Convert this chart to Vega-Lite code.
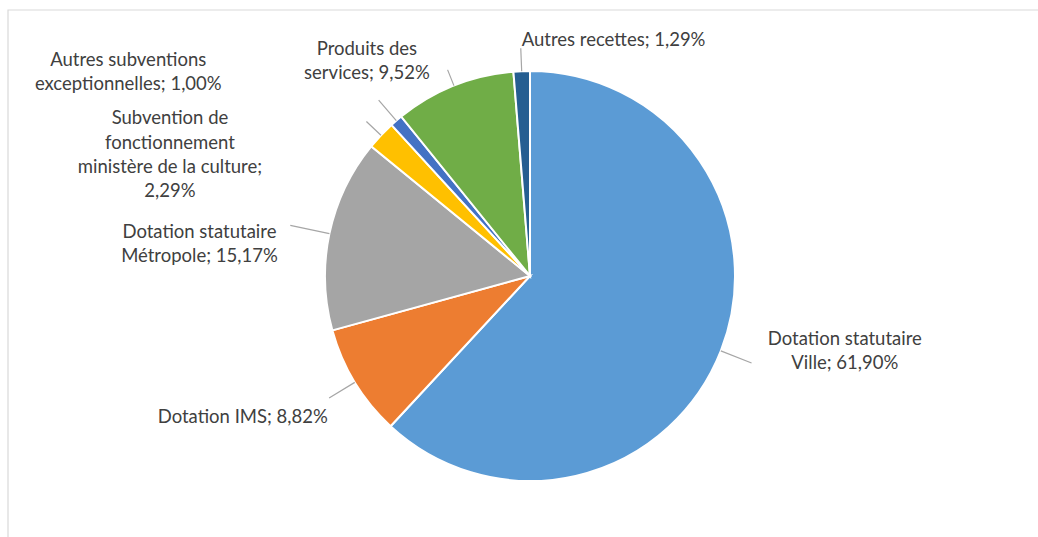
{
  "$schema": "https://vega.github.io/schema/vega-lite/v6.json",
  "width": 1038,
  "height": 537,
  "autosize": {"type": "fit", "contains": "padding"},
  "padding": {"left": 7, "top": 9, "right": -15, "bottom": -6},
  "background": "#ffffff",
  "config": {"view": {"stroke": null}},
  "data": {
    "values": [
      {"id": "ville", "order": 1, "value": 61.90, "label": "Dotation statutaire\nVille; 61,90%"},
      {"id": "ims", "order": 2, "value": 8.82, "label": "Dotation IMS; 8,82%"},
      {"id": "metro", "order": 3, "value": 15.17, "label": "Dotation statutaire\nMétropole; 15,17%"},
      {"id": "subv", "order": 4, "value": 2.29, "label": "Subvention de\nfonctionnement\nministère de la culture;\n2,29%"},
      {"id": "exc", "order": 5, "value": 1.00, "label": "Autres subventions\nexceptionnelles; 1,00%"},
      {"id": "prod", "order": 6, "value": 9.52, "label": "Produits des\nservices; 9,52%"},
      {"id": "autres", "order": 7, "value": 1.29, "label": "Autres recettes; 1,29%"}
    ]
  },
  "layer": [
    {
      "data": {"values": [{"frame": "border"}]},
      "mark": {"type": "rect", "fill": null, "filled": false, "stroke": "#d9d9d9", "strokeWidth": 1.2},
      "encoding": {}
    },
    {
      "mark": {"type": "arc", "outerRadius": 205, "stroke": "#ffffff", "strokeWidth": 2},
      "encoding": {
        "theta": {"field": "value", "type": "quantitative", "stack": true},
        "order": {"field": "order", "type": "quantitative"},
        "color": {
          "field": "id",
          "type": "nominal",
          "scale": {
            "domain": ["ville", "ims", "metro", "subv", "exc", "prod", "autres"],
            "range": ["#5B9BD5", "#ED7D31", "#A5A5A5", "#FFC000", "#4472C4", "#70AD47", "#255E91"]
          },
          "legend": null
        }
      }
    },
    {
      "transform": [
        {"stack": "value", "groupby": [], "sort": [{"field": "order", "order": "ascending"}], "as": ["t0", "t1"]},
        {"fold": ["t0", "t1"], "as": ["edge", "t"]},
        {"aggregate": [{"op": "mean", "field": "t", "as": "tm"}], "groupby": ["id", "label"]}
      ],
      "encoding": {"theta": {"field": "tm", "type": "quantitative", "stack": null}},
      "layer": [
        {
          "transform": [{"filter": {"field": "id", "equal": "ville"}}],
          "layer": [
            {"mark": {"type": "arc", "radius2": 205, "radius": 238, "filled": false, "stroke": "#a6a6a6", "strokeWidth": 1.2}, "encoding": {"theta2": {"field": "tm"}}},
            {"mark": {"type": "text", "radius": 205, "dx": 124, "dy": -21, "align": "center", "baseline": "top", "font": "Lato", "fontSize": 18.5, "lineHeight": 24.4, "lineBreak": "\n", "color": "#404040"}, "encoding": {"text": {"field": "label"}}}
          ]
        },
        {
          "transform": [{"filter": {"field": "id", "equal": "ims"}}],
          "layer": [
            {"mark": {"type": "arc", "radius2": 205, "radius": 235, "filled": false, "stroke": "#a6a6a6", "strokeWidth": 1.2}, "encoding": {"theta2": {"field": "tm"}}},
            {"mark": {"type": "text", "radius": 205, "dx": -112, "dy": 26, "align": "center", "baseline": "top", "font": "Lato", "fontSize": 18.5, "lineHeight": 24.4, "lineBreak": "\n", "color": "#404040"}, "encoding": {"text": {"field": "label"}}}
          ]
        },
        {
          "transform": [{"filter": {"field": "id", "equal": "metro"}}],
          "layer": [
            {"mark": {"type": "arc", "radius2": 205, "radius": 245, "filled": false, "stroke": "#a6a6a6", "strokeWidth": 1.2}, "encoding": {"theta2": {"field": "tm"}}},
            {"mark": {"type": "text", "radius": 205, "dx": -130, "dy": -11, "align": "center", "baseline": "top", "font": "Lato", "fontSize": 18.5, "lineHeight": 24.4, "lineBreak": "\n", "color": "#404040"}, "encoding": {"text": {"field": "label"}}}
          ]
        },
        {
          "transform": [{"filter": {"field": "id", "equal": "subv"}}],
          "layer": [
            {"mark": {"type": "arc", "radius2": 205, "radius": 225, "filled": false, "stroke": "#a6a6a6", "strokeWidth": 1.2}, "encoding": {"theta2": {"field": "tm"}}},
            {"mark": {"type": "text", "radius": 205, "dx": -211, "dy": -26, "align": "center", "baseline": "top", "font": "Lato", "fontSize": 18.5, "lineHeight": 24.4, "lineBreak": "\n", "color": "#404040"}, "encoding": {"text": {"field": "label"}}}
          ]
        },
        {
          "transform": [{"filter": {"field": "id", "equal": "exc"}}],
          "layer": [
            {"mark": {"type": "arc", "radius2": 205, "radius": 232, "filled": false, "stroke": "#a6a6a6", "strokeWidth": 1.2}, "encoding": {"theta2": {"field": "tm"}}},
            {"mark": {"type": "text", "radius": 205, "dx": -268, "dy": -70, "align": "center", "baseline": "top", "font": "Lato", "fontSize": 18.5, "lineHeight": 24.4, "lineBreak": "\n", "color": "#404040"}, "encoding": {"text": {"field": "label"}}}
          ]
        },
        {
          "transform": [{"filter": {"field": "id", "equal": "prod"}}],
          "layer": [
            {"mark": {"type": "arc", "radius2": 205, "radius": 222, "filled": false, "stroke": "#a6a6a6", "strokeWidth": 1.2}, "encoding": {"theta2": {"field": "tm"}}},
            {"mark": {"type": "text", "radius": 205, "dx": -87, "dy": -46, "align": "center", "baseline": "top", "font": "Lato", "fontSize": 18.5, "lineHeight": 24.4, "lineBreak": "\n", "color": "#404040"}, "encoding": {"text": {"field": "label"}}}
          ]
        },
        {
          "transform": [{"filter": {"field": "id", "equal": "autres"}}],
          "layer": [
            {"mark": {"type": "arc", "radius2": 205, "radius": 228, "filled": false, "stroke": "#a6a6a6", "strokeWidth": 1.2}, "encoding": {"theta2": {"field": "tm"}}},
            {"mark": {"type": "text", "radius": 205, "dx": 0, "dy": -40, "align": "left", "baseline": "top", "font": "Lato", "fontSize": 18.5, "lineHeight": 24.4, "lineBreak": "\n", "color": "#404040"}, "encoding": {"text": {"field": "label"}}}
          ]
        }
      ]
    }
  ]
}
